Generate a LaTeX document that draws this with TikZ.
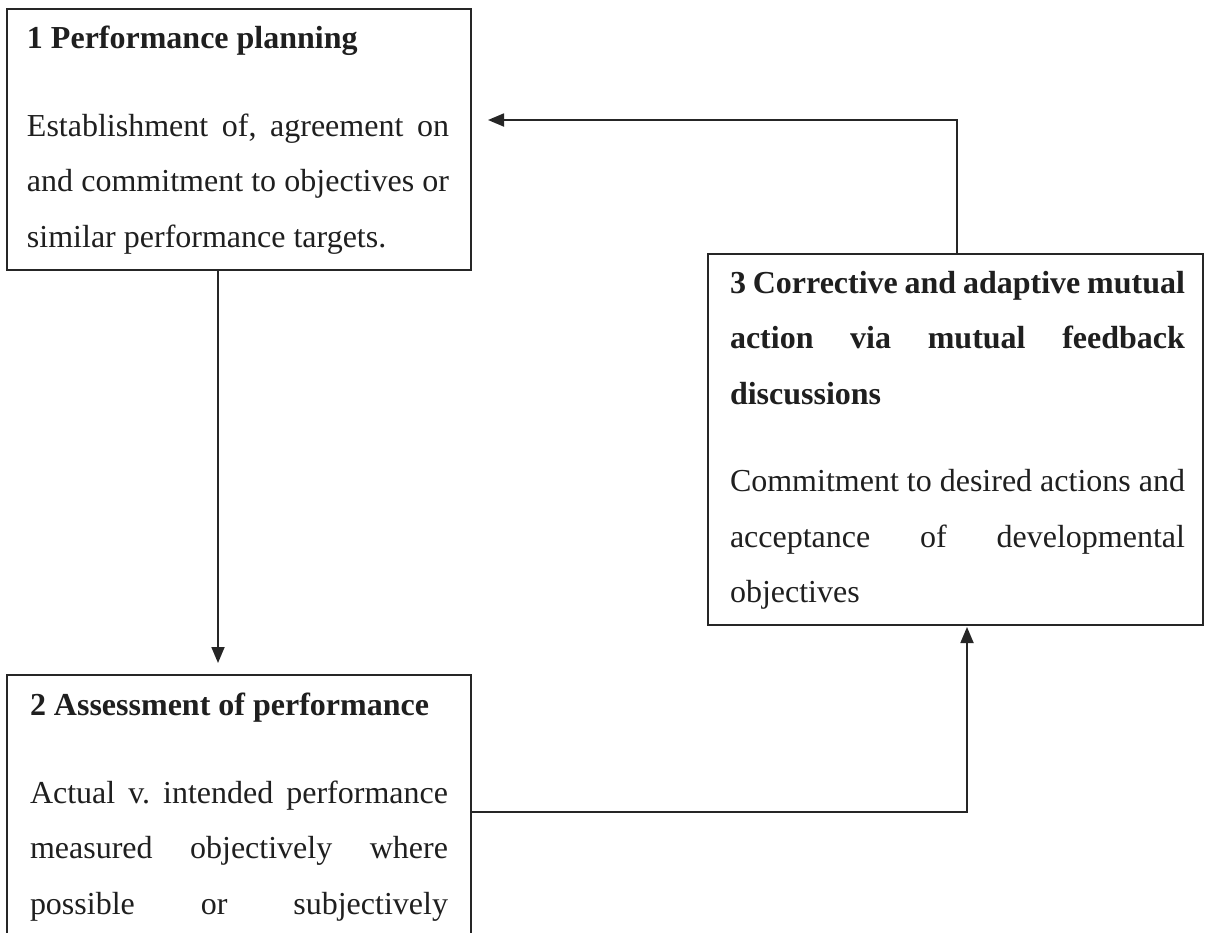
\documentclass[tikz,border=0pt]{standalone}
\usepackage{fontspec}
\setmainfont{Liberation Serif}
\usetikzlibrary{arrows.meta}
\newcommand{\jl}[1]{\makebox[\linewidth][s]{#1}}
\frenchspacing
\begin{document}
\begin{tikzpicture}[x=1pt,y=-1pt,
  box/.style={draw=black!85,line width=2.2pt,anchor=north west,inner sep=0pt,outer sep=0pt},
  txt/.style={anchor=base west,inner sep=0pt,outer sep=0pt,text=black!88},
  arr/.style={draw=black!85,line width=1.8pt,-{Triangle[length=16pt,width=13pt]}}]
\clip (0,0) rectangle (1205,932);
\fill[white] (0,0) rectangle (1205,932);
% boxes
\node[box,minimum width=464pt,minimum height=261pt] (b1) at (7,9) {};
\node[box,minimum width=464pt,minimum height=300pt] (b2) at (7,675) {};
\node[box,minimum width=495pt,minimum height=371pt] (b3) at (708,254) {};
% texts
\node[txt] (t1) at (27,48) {\parbox[t]{422pt}{\fontsize{32pt}{55.5pt}\selectfont
  \textbf{1 Performance planning}\par\vspace{32.5pt}
  \jl{Establishment of, agreement on}\par
  \jl{and commitment to objectives or}\par
  similar performance targets.}};
\node[txt] (t2) at (30,715) {\parbox[t]{418pt}{\fontsize{32pt}{55.5pt}\selectfont
  \textbf{2 Assessment of performance}\par\vspace{32.5pt}
  \jl{Actual v. intended performance}\par
  \jl{measured objectively where}\par
  \jl{possible or subjectively}}};
\node[txt] (t3) at (730,293) {\parbox[t]{455pt}{\fontsize{32pt}{55.5pt}\selectfont
  {\bfseries\jl{3 Corrective and adaptive mutual}\par
  \jl{action via mutual feedback}\par
  discussions\par}\vspace{32pt}
  \jl{Commitment to desired actions and}\par
  \jl{acceptance of developmental}\par
  objectives}};
% connectors
\draw[arr,shorten >=12pt] ([xshift=211pt]b1.south west) -- ([xshift=211pt]b2.north west);
\draw[arr,shorten >=17pt] ([xshift=249pt]b3.north west) |- ([yshift=-111pt]b1.north east);
\draw[arr,shorten >=2pt] ([yshift=-137pt]b2.north east) -| ([xshift=259pt]b3.south west);
\end{tikzpicture}
\end{document}
